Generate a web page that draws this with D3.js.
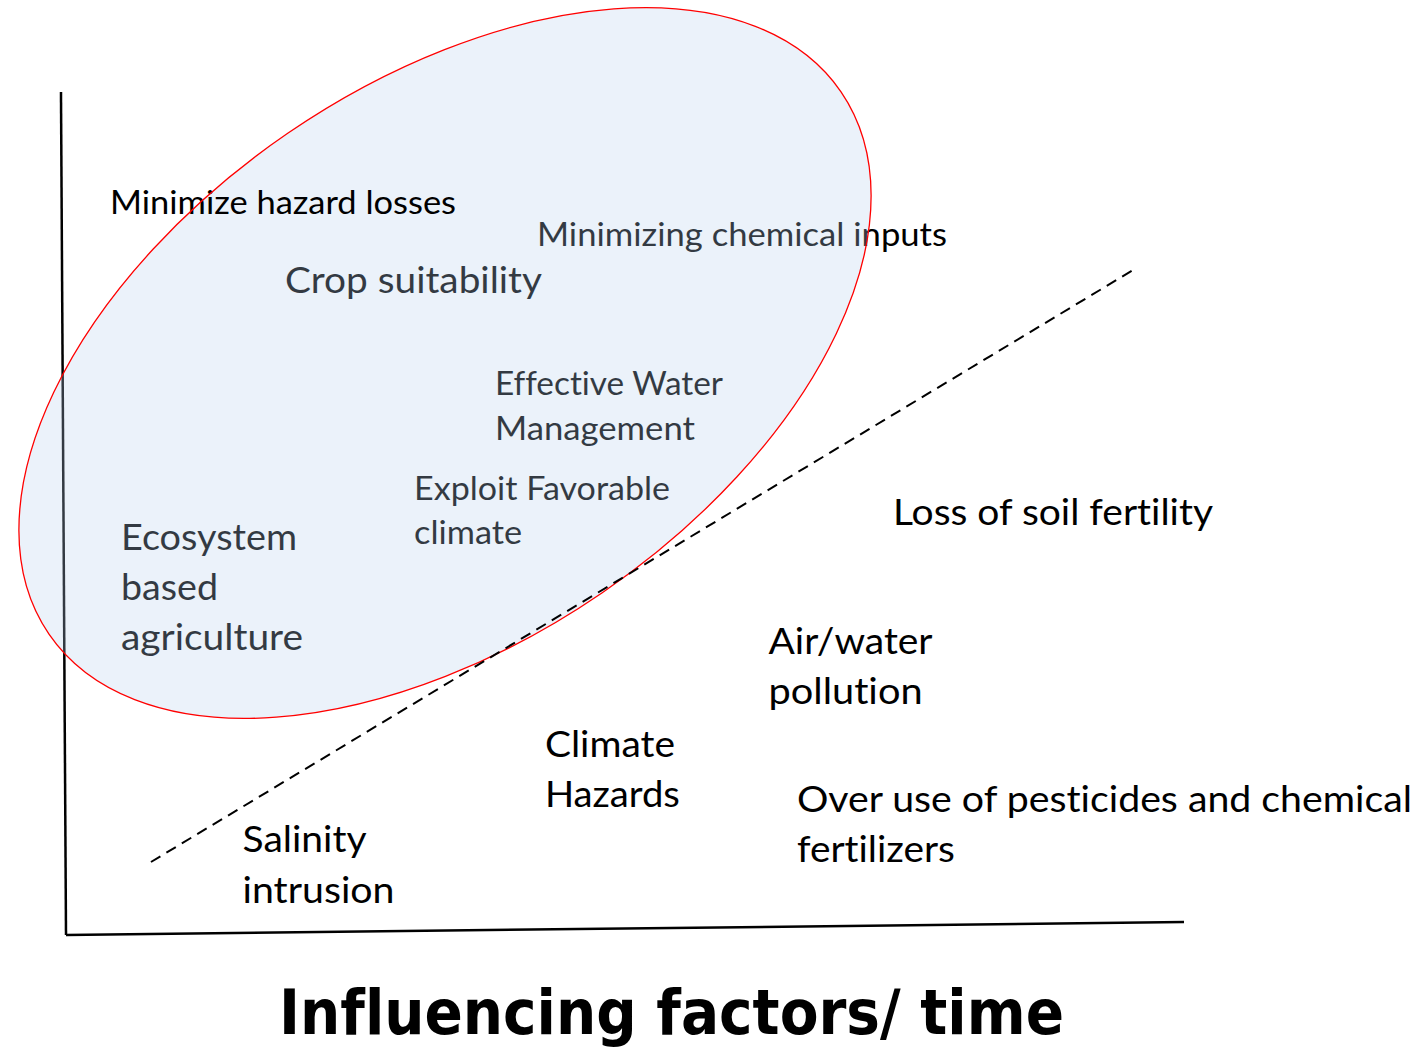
<!DOCTYPE html>
<html>
<head>
<meta charset="utf-8">
<script src="https://cdn.jsdelivr.net/npm/d3@7"></script>
<style>
  html, body { margin: 0; padding: 0; background: #ffffff; }
  svg { display: block; }
  text { font-variant-ligatures: none; font-feature-settings: "liga" 0; }
</style>
</head>
<body>
<svg id="chart" width="1422" height="1051"></svg>
<script>
// ---------- data ----------
const lines = [
  "Minimize hazard losses", "Minimizing chemical inputs", "Crop suitability",
  "Effective Water", "Management", "Exploit Favorable", "climate",
  "Ecosystem", "based", "agriculture",
  "Loss of soil fertility", "Air/water", "pollution", "Climate", "Hazards",
  "Over use of pesticides and chemical", "fertilizers", "Salinity", "intrusion"
];
// positions of each line in chart units (0-100 on both axes)
const lineX = [3.94, 42.13, 19.59, 38.37, 38.37, 31.13, 31.13, 4.92, 4.92, 4.92,
               73.97, 62.84, 62.84, 42.84, 42.84, 65.38, 65.38, 15.79, 15.79];
const lineY = [85.53, 81.73, 76.16, 64.06, 58.72, 51.66, 46.44, 45.67, 39.74, 33.81,
               48.64, 33.33, 27.46, 21.17, 15.18, 14.59, 8.66, 9.88, 3.83];
const xAxisPts = [[0, 0], [100, 1.54]];
const yAxisPts = [[-0.45, 100], [0, 0]];
const thresholdPts = [[7.60, 8.66], [95.44, 78.88]];
const ellipseCenter = [33.9, 67.85];
const ellipseAxes = [42.93, 24.9];   // semi-axes in x-units
const ellipseAngle = 34.4;           // degrees, counter-clockwise
const titleText = "Influencing factors/ time";

// ---------- layout / styles ----------
const lineSize = [37, 36, 41, 36, 36, 36, 36, 41, 41, 41, 41, 41, 41, 41, 41, 41, 41, 41, 41];
const lineWidth = [346, 410, 257, 228, 200, 256, 108, 176, 97, 182, 320, 164, 154, 130, 135, 615, 158, 124, 152];
const underFill = [false, true, true, true, true, true, true, true, true, true,
                   false, false, false, false, false, false, false, false, false];

const svg = d3.select("#chart");
const x = d3.scaleLinear().domain([0, 100]).range([66, 1184]);
const y = d3.scaleLinear().domain([0, 100]).range([935, 92]);
const lineGen = d3.line().x(d => x(d[0])).y(d => y(d[1]));

const baseLayer = svg.append("g");

// axes
baseLayer.append("path").attr("d", lineGen(yAxisPts))
  .attr("stroke", "#000").attr("stroke-width", 2.5).attr("fill", "none");
baseLayer.append("path").attr("d", lineGen(xAxisPts))
  .attr("stroke", "#000").attr("stroke-width", 2.5).attr("fill", "none");

function addText(g, i) {
  g.append("text")
    .attr("x", x(lineX[i])).attr("y", y(lineY[i]))
    .attr("font-family", "Lato, 'Open Sans', sans-serif")
    .attr("font-size", lineSize[i] * 0.9)
    .attr("fill", "#000")
    .attr("textLength", lineWidth[i])
    .attr("lengthAdjust", "spacingAndGlyphs")
    .text(lines[i]);
}
lines.forEach((t, i) => { if (underFill[i]) addText(baseLayer, i); });

// ellipse (fill above the texts it covers)
const cx = x(ellipseCenter[0]), cy = y(ellipseCenter[1]);
const rx = x(ellipseAxes[0]) - x(0), ry = x(ellipseAxes[1]) - x(0);
svg.append("ellipse")
  .attr("cx", cx).attr("cy", cy).attr("rx", rx).attr("ry", ry)
  .attr("transform", `rotate(${-ellipseAngle},${cx},${cy})`)
  .attr("fill", "rgb(182,210,238)").attr("fill-opacity", 0.28)
  .attr("stroke", "none");

lines.forEach((t, i) => { if (!underFill[i]) addText(svg, i); });

svg.append("ellipse")
  .attr("cx", cx).attr("cy", cy).attr("rx", rx).attr("ry", ry)
  .attr("transform", `rotate(${-ellipseAngle},${cx},${cy})`)
  .attr("fill", "none").attr("stroke", "#ff0000").attr("stroke-width", 1.3);

// dashed threshold line
svg.append("path").attr("d", lineGen(thresholdPts))
  .attr("stroke", "#000").attr("stroke-width", 2).attr("fill", "none")
  .attr("stroke-dasharray", "11,7");

// title
svg.append("text")
  .attr("x", 279).attr("y", 1034)
  .attr("font-family", "'DejaVu Sans', sans-serif")
  .attr("font-weight", "bold")
  .attr("font-size", 62)
  .attr("textLength", 785)
  .attr("lengthAdjust", "spacingAndGlyphs")
  .attr("fill", "#000")
  .text(titleText);
</script>
</body>
</html>
